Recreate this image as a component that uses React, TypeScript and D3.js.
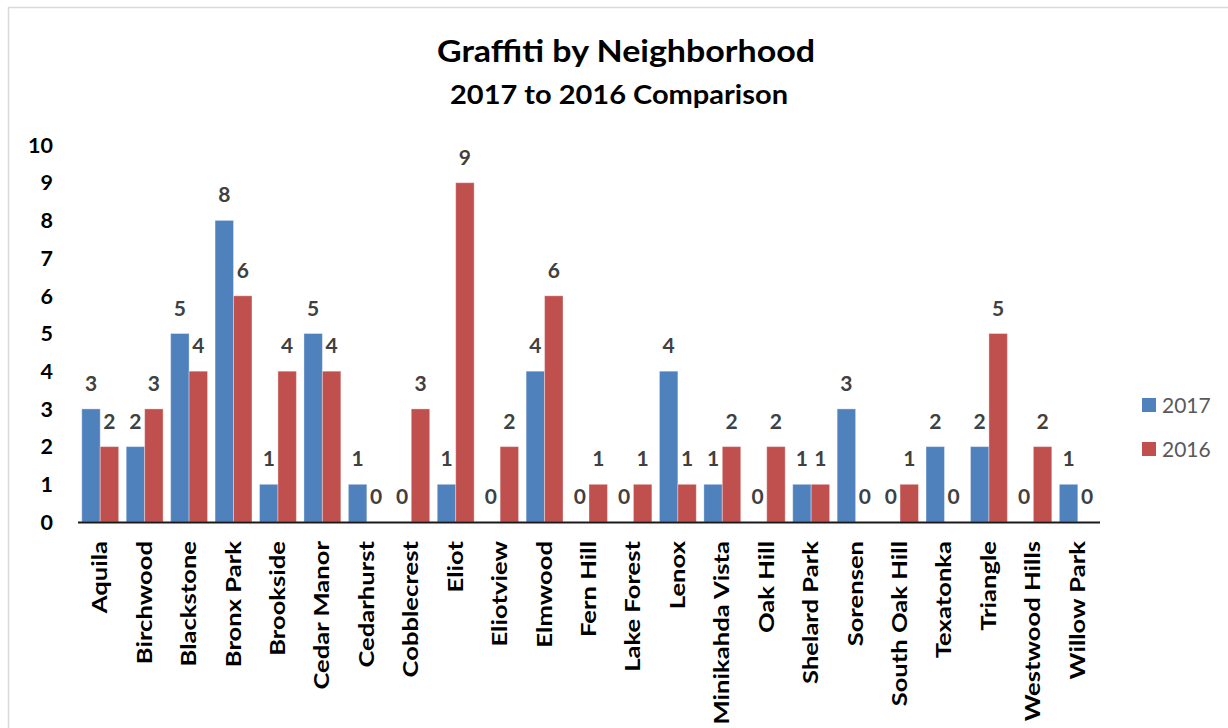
import React from "react";
import * as d3 from "d3";

const categories = [
  "Aquila", "Birchwood", "Blackstone", "Bronx Park", "Brookside", "Cedar Manor",
  "Cedarhurst", "Cobblecrest", "Eliot", "Eliotview", "Elmwood", "Fern Hill",
  "Lake Forest", "Lenox", "Minikahda Vista", "Oak Hill", "Shelard Park", "Sorensen",
  "South Oak Hill", "Texatonka", "Triangle", "Westwood Hills", "Willow Park",
];
const values2017 = [3, 2, 5, 8, 1, 5, 1, 0, 1, 0, 4, 0, 0, 4, 1, 0, 1, 3, 0, 2, 2, 0, 1];
const values2016 = [2, 3, 4, 6, 4, 4, 0, 3, 9, 2, 6, 1, 1, 1, 2, 2, 1, 0, 1, 0, 5, 2, 0];
const seriesNames = ["2017", "2016"];
const seriesColors = ["#4F81BD", "#C0504D"];
const yTicks = [0, 1, 2, 3, 4, 5, 6, 7, 8, 9, 10];
const title = "Graffiti by Neighborhood";
const subtitle = "2017 to 2016 Comparison";

const W = 1228;
const H = 728;
const FONT = "Lato, 'Open Sans', sans-serif";

export default function App() {
  const x = d3.scaleBand<string>().domain(categories).range([78, 1100]).paddingInner(0.17).paddingOuter(0.085);
  const sub = d3.scaleBand<string>().domain(seriesNames).range([0, x.bandwidth()]);
  const y = d3.scaleLinear().domain([0, 10]).range([522, 145]);
  const series = [values2017, values2016];

  return (
    <svg width={W} height={H} style={{ position: "absolute", left: 0, top: 0, background: "#fff" }} fontFamily={FONT}>
      <rect x={8.5} y={7.5} width={W + 20} height={H + 20} fill="#fff" stroke="#d9d9d9" strokeWidth={1.5} />
      <text x={626} y={62} textAnchor="middle" fontSize={30} fontWeight={700} fill="#000" textLength={378} lengthAdjust="spacingAndGlyphs">{title}</text>
      <text x={619} y={104} textAnchor="middle" fontSize={26} fontWeight={700} fill="#000" textLength={338} lengthAdjust="spacingAndGlyphs">{subtitle}</text>

      {yTicks.map((t) => (
        <text key={t} x={53} y={y(t)} dy="0.36em" textAnchor="end" fontSize={21.5} fontWeight={700} fill="#000">{t}</text>
      ))}

      {series.map((vals, si) =>
        vals.map((v, i) => {
          const c = categories[i];
          const bx = (x(c) as number) + (sub(seriesNames[si]) as number);
          return (
            <g key={`${si}-${i}`}>
              {v > 0 && (
                <rect x={bx} y={y(v)} width={sub.bandwidth()} height={y(0) - y(v)} fill={seriesColors[si]} stroke="#ffffff" strokeOpacity={0.35} strokeWidth={1} />
              )}
              <text x={bx + sub.bandwidth() / 2} y={y(v) - 18} textAnchor="middle" fontSize={21} fontWeight={700} fill="#404040">{v}</text>
            </g>
          );
        })
      )}

      <line x1={78} x2={1100} y1={y(0) + 0.5} y2={y(0) + 0.5} stroke="#1a1a1a" strokeWidth={2} />

      {categories.map((c) => {
        const cx = (x(c) as number) + x.bandwidth() / 2;
        return (
          <text key={c} transform={`translate(${cx},${541}) rotate(-90) scale(1.28,1)`} textAnchor="end" dy="0.35em" fontSize={20} fontWeight={700} fill="#000">{c}</text>
        );
      })}

      {seriesNames.map((s, i) => (
        <g key={s} transform={`translate(1142,${398 + i * 44})`}>
          <rect width={14} height={14} fill={seriesColors[i]} />
          <text x={20} y={7} dy="0.36em" fontSize={21} fill="#595959">{s}</text>
        </g>
      ))}
    </svg>
  );
}
